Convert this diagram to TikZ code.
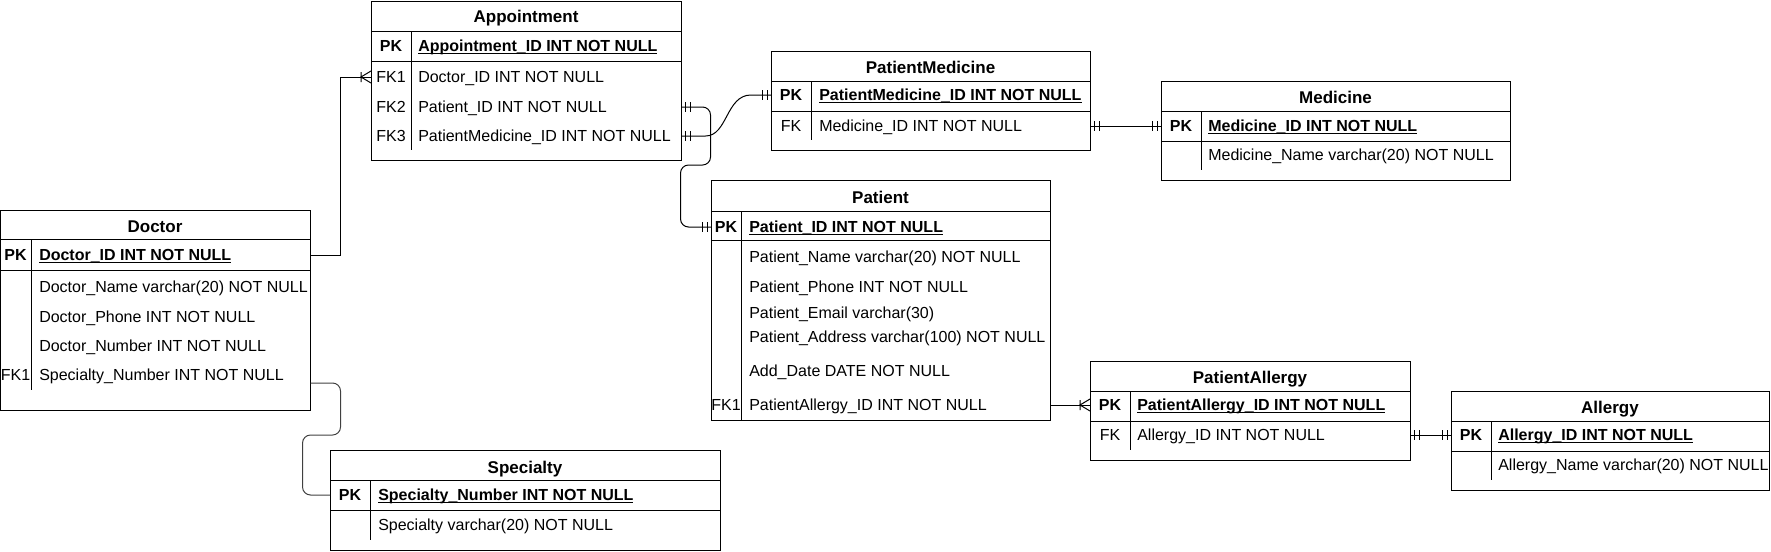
\documentclass[tikz,border=0pt]{standalone}
\usepackage{fontspec}
\setmainfont{Liberation Sans}
\usetikzlibrary{calc}
\newlength\pkulw
\newcommand\pkline[1]{\settowidth\pkulw{#1}\rlap{\rule[-1.8pt]{\pkulw}{0.6pt}}#1}
\tikzset{
  tbl/.style={draw, line width=0.75pt, fill=white, inner sep=0pt, anchor=north west},
  rowbox/.style={inner sep=0pt, minimum height=0pt, anchor=west},
  txt/.style={inner sep=0pt, text height=8.6pt, text depth=0pt, font=\fontsize{12}{14}\selectfont},
  ttl/.style={inner sep=0pt, text height=9.1pt, text depth=0pt, font=\fontsize{12.75}{15}\selectfont\bfseries},
  keytxt/.style={txt},
  fld/.style={txt, anchor=west},
  sepline/.style={line width=0.75pt},
  rel/.style={line width=0.75pt, rounded corners=6pt},
}
\newcommand\ertable[5]{\node[tbl, minimum width=#4*0.75pt, minimum height=#5*0.75pt] (#1) at (#2,#3) {};}
% name, x-left, width, y, key col width, key, text x, text
\newcommand\errow[8]{%
  \node[rowbox, minimum width=#3*0.75pt] (#1) at (#2,#4) {};
  \node[keytxt] (#1-k) at ({#2+#5/2},#4) {#6};
  \node[fld] (#1-n) at (#7,#4) {#8};}
\newcommand\mandone[2]{%
  \draw[sepline] ($(#1)+({#2*4},-5)$) -- ++(0,10) ($(#1)+({#2*9},-5)$) -- ++(0,10);}
\newcommand\crowfoot[2]{%
  \draw[sepline] ($(#1)+({#2*10},-5)$) -- ++(0,10)
    ($(#1)+(0,-6)$) -- ($(#1)+({#2*10},0)$) -- ($(#1)+(0,6)$);}
\begin{document}
\begin{tikzpicture}[x=0.75pt, y=-0.75pt]
\useasboundingbox (0,0) rectangle (1771,551);
% ---------------- Doctor
\ertable{doc}{0}{210}{310}{200}
\draw[sepline] (0,239) -- (310,239) (0,270) -- (310,270) (31,239) -- (31,390);
\node[ttl] (doc-t) at (155,226) {Doctor};
\errow{doc-pk}{0}{310}{255}{31}{\textbf{PK}}{39}{\textbf{\pkline{Doctor\_ID INT NOT NULL}}}
\errow{doc-r1}{0}{310}{287}{31}{}{39}{Doctor\_Name varchar(20) NOT NULL}
\errow{doc-r2}{0}{310}{317}{31}{}{39}{Doctor\_Phone INT NOT NULL}
\errow{doc-r3}{0}{310}{346}{31}{}{39}{Doctor\_Number INT NOT NULL}
\errow{doc-fk1}{0}{310}{375}{31}{FK1}{39}{Specialty\_Number INT NOT NULL}
% ---------------- Appointment
\ertable{appt}{371}{1}{310}{159}
\draw[sepline] (371,31) -- (681,31) (371,61) -- (681,61) (411,31) -- (411,150);
\node[ttl] (appt-t) at (526,16) {Appointment};
\errow{appt-pk}{371}{310}{46}{40}{\textbf{PK}}{418}{\textbf{\pkline{Appointment\_ID INT NOT NULL}}}
\errow{appt-fk1}{371}{310}{77}{40}{FK1}{418}{Doctor\_ID INT NOT NULL}
\errow{appt-fk2}{371}{310}{107}{40}{FK2}{418}{Patient\_ID INT NOT NULL}
\errow{appt-fk3}{371}{310}{136}{40}{FK3}{418}{PatientMedicine\_ID INT NOT NULL}
% ---------------- PatientMedicine
\ertable{pm}{771}{51}{319}{99}
\draw[sepline] (771,81) -- (1090,81) (771,111) -- (1090,111) (811,81) -- (811,140);
\node[ttl] (pm-t) at (930.5,67) {PatientMedicine};
\errow{pm-pk}{771}{319}{95}{40}{\textbf{PK}}{819}{\textbf{\pkline{PatientMedicine\_ID INT NOT NULL}}}
\errow{pm-fk}{771}{319}{126}{40}{FK}{819}{Medicine\_ID INT NOT NULL}
% ---------------- Medicine
\ertable{med}{1161}{81}{349}{99}
\draw[sepline] (1161,111) -- (1510,111) (1161,141) -- (1510,141) (1201,111) -- (1201,170);
\node[ttl] (med-t) at (1335.5,97) {Medicine};
\errow{med-pk}{1161}{349}{126}{40}{\textbf{PK}}{1208}{\textbf{\pkline{Medicine\_ID INT NOT NULL}}}
\errow{med-r1}{1161}{349}{155}{40}{}{1208}{Medicine\_Name varchar(20) NOT NULL}
% ---------------- Patient
\ertable{pat}{711}{180}{339}{240}
\draw[sepline] (711,211) -- (1050,211) (711,240) -- (1050,240) (741,211) -- (741,420);
\node[ttl] (pat-t) at (880.5,197) {Patient};
\errow{pat-pk}{711}{339}{227}{30}{\textbf{PK}}{749}{\textbf{\pkline{Patient\_ID INT NOT NULL}}}
\errow{pat-r1}{711}{339}{257}{30}{}{749}{Patient\_Name varchar(20) NOT NULL}
\errow{pat-r2}{711}{339}{287}{30}{}{749}{Patient\_Phone INT NOT NULL}
\errow{pat-r3}{711}{339}{313}{30}{}{749}{Patient\_Email varchar(30)}
\errow{pat-r4}{711}{339}{337}{30}{}{749}{Patient\_Address varchar(100) NOT NULL}
\errow{pat-r5}{711}{339}{371}{30}{}{749}{Add\_Date DATE NOT NULL}
\errow{pat-fk1}{711}{339}{405}{30}{FK1}{749}{PatientAllergy\_ID INT NOT NULL}
% ---------------- PatientAllergy
\ertable{pa}{1090}{361}{320}{99}
\draw[sepline] (1090,391) -- (1410,391) (1090,421) -- (1410,421) (1130,391) -- (1130,450);
\node[ttl] (pa-t) at (1250,377) {PatientAllergy};
\errow{pa-pk}{1090}{320}{405}{40}{\textbf{PK}}{1137}{\textbf{\pkline{PatientAllergy\_ID INT NOT NULL}}}
\errow{pa-fk}{1090}{320}{435}{40}{FK}{1137}{Allergy\_ID INT NOT NULL}
% ---------------- Allergy
\ertable{al}{1451}{391}{318}{99}
\draw[sepline] (1451,421) -- (1769,421) (1451,451) -- (1769,451) (1491,421) -- (1491,480);
\node[ttl] (al-t) at (1610,407) {Allergy};
\errow{al-pk}{1451}{318}{435}{40}{\textbf{PK}}{1498}{\textbf{\pkline{Allergy\_ID INT NOT NULL}}}
\errow{al-r1}{1451}{318}{465}{40}{}{1498}{Allergy\_Name varchar(20) NOT NULL}
% ---------------- Specialty
\ertable{spec}{330}{450}{390}{100}
\draw[sepline] (330,480) -- (720,480) (330,510) -- (720,510) (370,480) -- (370,540);
\node[ttl] (spec-t) at (525,467) {Specialty};
\errow{spec-pk}{330}{390}{495}{40}{\textbf{PK}}{378}{\textbf{\pkline{Specialty\_Number INT NOT NULL}}}
\errow{spec-r1}{330}{390}{525}{40}{}{378}{Specialty varchar(20) NOT NULL}
% ---------------- Relationships
\draw[rel, sharp corners] (doc-pk.east) -- ++(30,0) |- (appt-fk1.west);
\crowfoot{appt-fk1.west}{-1}
\draw[rel, black!75] ([yshift=-6pt]doc-fk1.east) -- ++(30,0) -- ++(0,52) -- ++(-38,0) |- (spec-pk.west);
\draw[rel] (appt-fk2.east) -- ++(29,0) -- ++(0,58) -- ++(-30,0) |- (pat-pk.west);
\mandone{appt-fk2.east}{1}
\mandone{pat-pk.west}{-1}
\draw[rel, sharp corners] (appt-fk3.east) -- ($(appt-fk3.east)+(24,0)$) .. controls ($(appt-fk3.east)+(46,0)$) and ($(pm-pk.west)+(-45,0)$) .. ($(pm-pk.west)+(-20,0)$) -- (pm-pk.west);
\mandone{appt-fk3.east}{1}
\mandone{pm-pk.west}{-1}
\draw[rel] (pm-fk.east) -- (med-pk.west);
\mandone{pm-fk.east}{1}
\mandone{med-pk.west}{-1}
\draw[rel] (pat-fk1.east |- pa-pk.west) -- (pa-pk.west);
\crowfoot{pa-pk.west}{-1}
\draw[rel] (pa-fk.east) -- (al-pk.west);
\mandone{pa-fk.east}{1}
\mandone{al-pk.west}{-1}
\end{tikzpicture}
\end{document}
